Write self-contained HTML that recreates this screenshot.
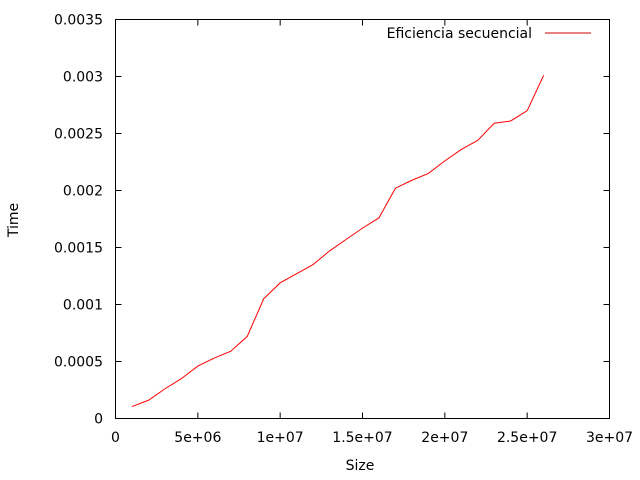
<!DOCTYPE html>
<html><head><meta charset="utf-8"><style>
body{margin:0;background:#fff}
svg{display:block;font-family:"DejaVu Sans","Liberation Sans",sans-serif;font-size:14px}
</style></head><body>
<svg id="chart" width="640" height="480">
<rect x="115.5" y="19.5" width="494" height="399" fill="none" stroke="#000"/>
<g id="ticks"></g>
<text x="18" y="220" transform="rotate(-90 18 220)" text-anchor="middle">Time</text>
<text x="360" y="470" text-anchor="middle">Size</text>
<g>
<text x="532" y="38" text-anchor="end">Eficiencia secuencial</text>
<line x1="545" y1="33" x2="591" y2="33" stroke="#d00000" stroke-width="1.2" shape-rendering="crispEdges"/>
</g>
<polyline id="series" fill="none" stroke="red" stroke-width="1"/>
</svg>
<script>
const sizes=[1e6,2e6,3e6,4e6,5e6,6e6,7e6,8e6,9e6,10e6,11e6,12e6,13e6,14e6,15e6,16e6,17e6,18e6,19e6,20e6,21e6,22e6,23e6,24e6,25e6,26e6];
const times=[0.000105,0.00016,0.00026,0.00035,0.00046,0.00053,0.00059,0.00072,0.00105,0.00119,0.00127,0.00135,0.00147,0.00157,0.00167,0.00176,0.00202,0.00209,0.00215,0.00226,0.00236,0.00244,0.00259,0.00261,0.0027,0.00301];
const xTicks=[0,5e6,1e7,1.5e7,2e7,2.5e7,3e7];
const xLabels=["0","5e+06","1e+07","1.5e+07","2e+07","2.5e+07","3e+07"];
const yTicks=[0,0.0005,0.001,0.0015,0.002,0.0025,0.003,0.0035];
const yLabels=["0","0.0005","0.001","0.0015","0.002","0.0025","0.003","0.0035"];
const L=115.5,R=609.5,T=19.5,B=418.5;
const xs=v=>L+(R-L)*v/3e7, ys=v=>B-(B-T)*v/0.0035;
const NS="http://www.w3.org/2000/svg",g=document.getElementById('ticks');
function mk(t,a){const e=document.createElementNS(NS,t);for(const k in a)e.setAttribute(k,a[k]);g.appendChild(e);return e;}
xTicks.forEach((v,i)=>{const x=xs(v);
 let l=mk('line',{x1:x,y1:B,x2:x,y2:B-6,stroke:'#000'});
 
 
 l=mk('line',{x1:x,y1:T,x2:x,y2:T+6,stroke:'#000'});
 
 
 const t=mk('text',{x:x,y:442,'text-anchor':'middle'});t.textContent=xLabels[i];
 
 
});
yTicks.forEach((v,i)=>{const y=ys(v);
 let l=mk('line',{x1:L,y1:y,x2:L+6,y2:y,stroke:'#000'});
 
 
 l=mk('line',{x1:R,y1:y,x2:R-6,y2:y,stroke:'#000'});
 
 
 const t=mk('text',{x:103,y:y+5,'text-anchor':'end'});t.textContent=yLabels[i];
 
 
});
document.getElementById('series').setAttribute('points',sizes.map((s,i)=>xs(s)+','+ys(times[i])).join(' '));
</script>
</body></html>
